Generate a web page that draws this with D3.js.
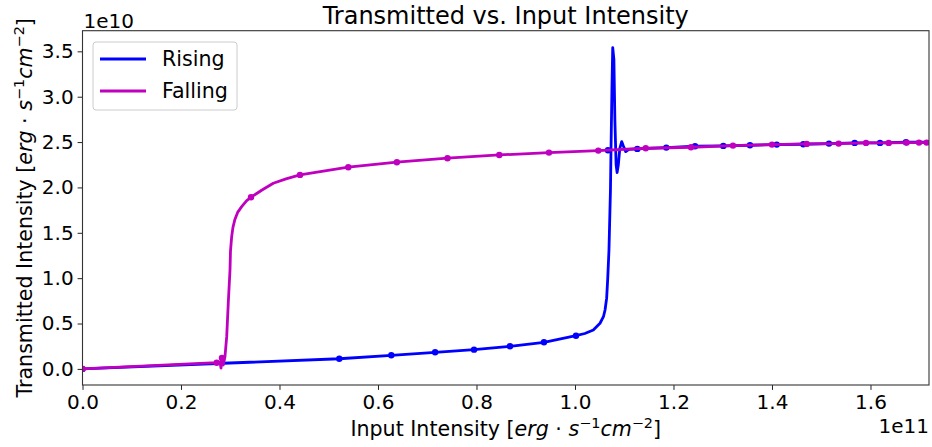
<!DOCTYPE html>
<html>
<head>
<meta charset="utf-8">
<script src="https://cdn.jsdelivr.net/npm/d3@7"></script>
<style>
  html, body { margin: 0; padding: 0; background: #fff; }
  svg { display: block; font-family: "DejaVu Sans", sans-serif; }
</style>
</head>
<body>
<svg id="chart" width="932" height="447"></svg>
<script>
// ---- Data (x in units of 1e11, y in units of 1e10) ----
const risingX = [0, 0.286, 0.5214, 0.627, 0.716, 0.795, 0.868, 0.937, 1.002, 1.02, 1.0372, 1.0508, 1.058, 1.061, 1.0643, 1.0665, 1.069, 1.072, 1.0731, 1.075, 1.0766, 1.079, 1.081, 1.0835, 1.0855, 1.088, 1.091, 1.0948, 1.098, 1.103, 1.1096, 1.1265, 1.1854, 1.2437, 1.3011, 1.3553, 1.4096, 1.4636, 1.5157, 1.5679, 1.6193, 1.6721, 1.7188];
const risingY = [0, 0.062, 0.112, 0.150, 0.183, 0.212, 0.249, 0.293, 0.366, 0.39, 0.429, 0.503, 0.58, 0.649, 0.78, 1.0, 1.31, 1.97, 2.41, 3.08, 3.54, 3.41, 2.74, 2.25, 2.163, 2.25, 2.43, 2.505, 2.46, 2.395, 2.42, 2.425, 2.439, 2.454, 2.458, 2.465, 2.472, 2.476, 2.483, 2.491, 2.491, 2.498, 2.498];
const risingMarkX = [0, 0.5214, 0.627, 0.716, 0.795, 0.868, 0.937, 1.002, 1.067, 1.1265, 1.1854, 1.2437, 1.3011, 1.3553, 1.4096, 1.4636, 1.5157, 1.5679, 1.6193, 1.6721];
const risingMarkY = [0, 0.112, 0.150, 0.183, 0.212, 0.249, 0.293, 0.366, 2.41, 2.425, 2.439, 2.454, 2.458, 2.465, 2.472, 2.476, 2.483, 2.491, 2.491, 2.498];

const fallingX = [1.7188, 1.7141, 1.6985, 1.6735, 1.637, 1.5909, 1.5354, 1.4705, 1.40, 1.3208, 1.2355, 1.1436, 1.0473, 0.9472, 0.8463, 0.7411, 0.6383, 0.5397, 0.4416, 0.4132, 0.3874, 0.3645, 0.3421, 0.3334, 0.3232, 0.3150, 0.3096, 0.3055, 0.3029, 0.3005, 0.2995, 0.296, 0.2928, 0.2893, 0.2858, 0.2832, 0.2812, 0.2792, 0.2725, 0];
const fallingY = [2.496, 2.494, 2.494, 2.494, 2.491, 2.491, 2.483, 2.48, 2.472, 2.461, 2.443, 2.432, 2.406, 2.384, 2.358, 2.322, 2.278, 2.223, 2.138, 2.094, 2.046, 1.972, 1.892, 1.854, 1.788, 1.725, 1.650, 1.560, 1.458, 1.300, 1.090, 0.727, 0.355, 0.135, 0.043, 0.12, 0.01, 0.076, 0.068, 0];
const fallingMarkX = [1.7141, 1.6985, 1.6735, 1.637, 1.5909, 1.5354, 1.4705, 1.40, 1.3208, 1.2355, 1.1436, 1.0473, 0.9472, 0.8463, 0.7411, 0.6383, 0.5397, 0.4416, 0.3421, 0.2832, 0.2725, 0];
const fallingMarkY = [2.494, 2.494, 2.494, 2.491, 2.491, 2.483, 2.48, 2.472, 2.461, 2.443, 2.432, 2.406, 2.384, 2.358, 2.322, 2.278, 2.223, 2.138, 1.892, 0.12, 0.068, 0];

const xTicks = [0, 0.2, 0.4, 0.6, 0.8, 1.0, 1.2, 1.4, 1.6];
const yTicks = [0, 0.5, 1.0, 1.5, 2.0, 2.5, 3.0, 3.5];
const seriesNames = ["Rising", "Falling"];
const seriesColors = ["#0000ff", "#bf00bf"];

// ---- Layout ----
const L = 82.5, R = 929, T = 30.7, B = 385;
const FS = 20;      // tick labels
const FL = 20.6;    // axis labels, legend, offsets
const FT = 24;      // title
const svg = d3.select("#chart");

const x = d3.scaleLinear().domain([0, 1.7188]).range([L, R]);
const y = d3.scaleLinear().domain([-0.1775, 3.7275]).range([B, T]);

svg.append("defs").append("clipPath").attr("id", "clip")
  .append("rect").attr("x", L).attr("y", T).attr("width", R - L).attr("height", B - T);

const xAxis = d3.axisBottom(x).tickValues(xTicks).tickFormat(d3.format(".1f")).tickSize(4.9).tickPadding(4);
const yAxis = d3.axisLeft(y).tickValues(yTicks).tickFormat(d3.format(".1f")).tickSize(4.9).tickPadding(4);

const gx = svg.append("g").attr("transform", `translate(0,${B})`).call(xAxis);
const gy = svg.append("g").attr("transform", `translate(${L},0)`).call(yAxis);
[gx, gy].forEach(g => {
  g.select(".domain").remove();
  g.selectAll(".tick line").attr("stroke", "#222").attr("stroke-width", 1);
  g.selectAll(".tick text").attr("fill", "#000").style("font-size", FS + "px").style("font-family", "DejaVu Sans");
});
gx.selectAll(".tick text").attr("dy", "0.75em");

const plot = svg.append("g").attr("clip-path", "url(#clip)");
const line = d3.line().x(d => x(d[0])).y(d => y(d[1]));

function drawSeries(xs, ys, mx, my, color) {
  const pts = xs.map((v, i) => [v, ys[i]]);
  plot.append("path").datum(pts).attr("d", line)
    .attr("fill", "none").attr("stroke", color).attr("stroke-width", 2.8)
    .attr("stroke-linejoin", "round").attr("stroke-linecap", "square");
  const mk = mx.map((v, i) => [v, my[i]]);
  plot.selectAll(null).data(mk).enter().append("circle")
    .attr("cx", d => x(d[0])).attr("cy", d => y(d[1])).attr("r", 3.2)
    .attr("fill", color);
}
drawSeries(risingX, risingY, risingMarkX, risingMarkY, seriesColors[0]);
drawSeries(fallingX, fallingY, fallingMarkX, fallingMarkY, seriesColors[1]);

svg.append("rect").attr("x", L).attr("y", T).attr("width", R - L).attr("height", B - T)
  .attr("fill", "none").attr("stroke", "#333").attr("stroke-width", 1.1);

svg.append("text").attr("x", (L + R) / 2).attr("y", 24).attr("text-anchor", "middle")
  .style("font-size", FT + "px").text("Transmitted vs. Input Intensity");

svg.append("text").attr("x", L + 1).attr("y", 27.5).style("font-size", FS + "px").text("1e10");
svg.append("text").attr("x", R).attr("y", 433).attr("text-anchor", "end").style("font-size", FS + "px").text("1e11");

function unitLabel(t) {
  t.append("tspan").text("[");
  t.append("tspan").style("font-style", "italic").text("erg");
  t.append("tspan").text(" · ");
  t.append("tspan").style("font-style", "italic").text("s");
  t.append("tspan").attr("dy", -8).style("font-size", (FL * 0.7) + "px").text("−1");
  t.append("tspan").attr("dy", 8).style("font-style", "italic").text("cm");
  t.append("tspan").attr("dy", -8).style("font-size", (FL * 0.7) + "px").text("−2");
  t.append("tspan").attr("dy", 8).text("]");
}
const xl = svg.append("text").attr("x", (L + R) / 2).attr("y", 436).attr("text-anchor", "middle")
  .style("font-size", FL + "px");
xl.append("tspan").text("Input Intensity ");
unitLabel(xl);

const yl = svg.append("text").attr("transform", `translate(31.5,${(T + B) / 2}) rotate(-90)`)
  .attr("text-anchor", "middle").style("font-size", FL + "px");
yl.append("tspan").text("Transmitted Intensity ");
unitLabel(yl);

const lg = svg.append("g");
lg.append("rect").attr("x", 93).attr("y", 42).attr("width", 144).attr("height", 68).attr("rx", 3)
  .attr("fill", "#fff").attr("fill-opacity", 0.8).attr("stroke", "#cccccc").attr("stroke-width", 1);
seriesNames.forEach((n, i) => {
  const yy = 59 + i * 32;
  lg.append("line").attr("x1", 100).attr("x2", 146).attr("y1", yy).attr("y2", yy)
    .attr("stroke", seriesColors[i]).attr("stroke-width", 2.8);
  lg.append("text").attr("x", 162).attr("y", yy + 7).style("font-size", FL + "px").text(n);
});
</script>
</body>
</html>
